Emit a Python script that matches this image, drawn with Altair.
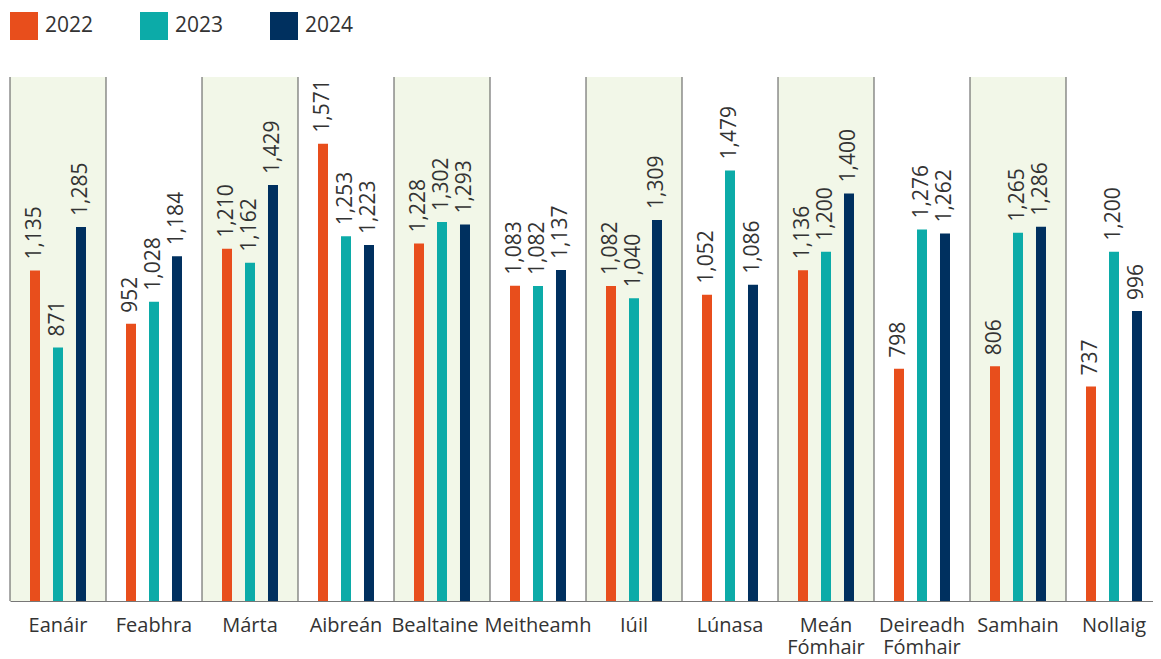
import altair as alt
import pandas as pd

months = ["Eanáir", "Feabhra", "Márta", "Aibreán", "Bealtaine", "Meitheamh",
          "Iúil", "Lúnasa", "Meán Fómhair", "Deireadh Fómhair", "Samhain", "Nollaig"]
years = ["2022", "2023", "2024"]
v2022 = [1135, 952, 1210, 1571, 1228, 1083, 1082, 1052, 1136, 798, 806, 737]
v2023 = [871, 1028, 1162, 1253, 1302, 1082, 1040, 1479, 1200, 1276, 1265, 1200]
v2024 = [1285, 1184, 1429, 1223, 1293, 1137, 1309, 1086, 1400, 1262, 1286, 996]
shaded = [1, 0, 1, 0, 1, 0, 1, 0, 1, 0, 1, 0]
colors = ["#E84E1C", "#0CABA8", "#00305F"]
YMAX = 1800

rows = []
for yr, vals in zip(years, [v2022, v2023, v2024]):
    for m, v in zip(months, vals):
        rows.append({"month": m, "year": yr, "value": v})
df = pd.DataFrame(rows)

bands = pd.DataFrame({"month": months, "top": [YMAX if s else 0 for s in shaded]})
divs = pd.DataFrame({"month": months})

xscale = alt.Scale(domain=months, paddingInner=0, paddingOuter=0, range=[0, 1152])
yscale = alt.Scale(domain=[0, YMAX], nice=False)

xenc = alt.X("month:N", sort=months, scale=xscale,
             axis=alt.Axis(title=None, labelAngle=0, ticks=False,
                           labelExpr="split(datum.label, ' ')",
                           labelFont="Open Sans", labelFontSize=20,
                           labelColor="#333333", labelPadding=14,
                           labelLineHeight=22.5, domainColor="#777777",
                           labelOffset={"condition": {"test": "datum.value == 'Bealtaine'",
                                                      "value": -7},
                                        "value": 0},
                           domainWidth=1, grid=False))
yenc_axis = alt.Axis(title=None, labels=False, ticks=False, domain=False, grid=False)

bg = alt.Chart(bands).mark_bar(color="#F2F7E8").encode(
    x=xenc,
    y=alt.Y("top:Q", scale=yscale, axis=yenc_axis),
)

rules = alt.Chart(divs).mark_rule(color="#555555", strokeWidth=1).encode(
    x=alt.X("month:N", sort=months, bandPosition=0),
    y=alt.value(0),
    y2=alt.value(524),
)

xoff = alt.XOffset("year:N", sort=years,
                   scale=alt.Scale(domain=years, paddingInner=0, paddingOuter=0.587))

bars = alt.Chart(df).mark_bar(width=10).encode(
    x=alt.X("month:N", sort=months),
    xOffset=xoff,
    y=alt.Y("value:Q", scale=yscale, axis=yenc_axis),
    color=alt.Color("year:N", sort=years,
                    scale=alt.Scale(domain=years, range=colors),
                    legend=alt.Legend(title=None, orient="none", legendX=0, legendY=-65,
                                      direction="horizontal", symbolType="square",
                                      symbolSize=784, symbolStrokeWidth=0,
                                      labelFont="Open Sans", labelFontSize=21,
                                      labelColor="#333333", labelOffset=7,
                                      columnPadding=46)),
)

labels = alt.Chart(df).mark_text(angle=270, align="left", baseline="middle",
                                 dx=11, font="Open Sans", fontSize=21,
                                 color="#333333").encode(
    x=alt.X("month:N", sort=months),
    xOffset=xoff,
    y=alt.Y("value:Q", scale=yscale),
    text=alt.Text("value:Q", format=","),
)

chart = alt.layer(bg, rules, bars, labels).properties(
    width=1143, height=524,
    autosize=alt.AutoSizeParams(type="none"),
    padding={"left": 2, "top": 69, "right": 0, "bottom": 58},
).configure_view(stroke=None)

chart.save("out.html", embed_options={"renderer": "svg", "actions": False})
